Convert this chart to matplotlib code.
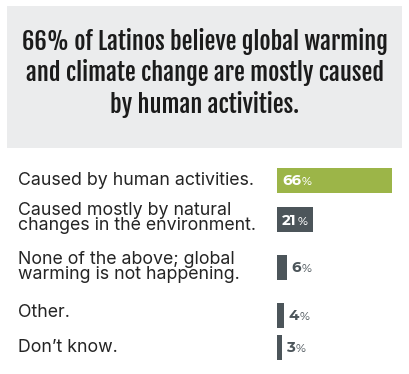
import matplotlib
matplotlib.use("Agg")
import matplotlib.pyplot as plt
from matplotlib.patches import Rectangle

# data
title = "66% of Latinos believe global warming\nand climate change are mostly caused\nby human activities."
labels = ["Caused by human activities.",
          "Caused mostly by natural\nchanges in the environment.",
          "None of the above; global\nwarming is not happening.",
          "Other.",
          "Don\u2019t know."]
values = [66, 21, 6, 4, 3]
colors = ["#9cb548", "#4c555a", "#4c555a", "#4c555a", "#4c555a"]

# layout, in pixels from the top (label_base = baseline of last line)
bar_y = [180.3, 219.7, 267.3, 315.2, 347.5]
label_base = [185.3, 230.0, 279.3, 317.3, 351.7]
W, H = 410, 374
dpi = 100

fig = plt.figure(figsize=(W / dpi, H / dpi), dpi=dpi)
fig.patch.set_facecolor("white")

bg = fig.add_axes([0, 0, 1, 1])
bg.set_xlim(0, W)
bg.set_ylim(H, 0)
bg.axis("off")
bg.add_patch(Rectangle((7, 6), 395, 142, color="#ebeced", lw=0))
bg.text(205, 113, title, ha="center", va="baseline", fontsize=17.6,
        fontfamily="Fjalla One", color="#1b1b1b", linespacing=1.21,
        multialignment="center")

for lab, y in zip(labels, label_base):
    bg.text(18, y, lab, ha="left", va="baseline", fontsize=12.8,
            fontfamily="Inter", color="#242424", linespacing=0.88)

# bars
x0, x1 = 276.7, 402
px_per_pct = 1.742
ax = fig.add_axes([x0 / W, 0, (x1 - x0) / W, 1])
ax.set_xlim(0, (x1 - x0) / px_per_pct)
ax.set_ylim(H, 0)
ax.axis("off")
ax.barh(bar_y, values, height=24.7, color=colors, left=0)

fig.canvas.draw()
r = fig.canvas.get_renderer()
for v, y in zip(values, bar_y):
    if v > 15:
        xs, c, c2 = 3.1, "white", "white"
    else:
        xs, c, c2 = v + 2.6, "#4c555a", "#5f676c"
    t = ax.text(xs, y + 5, str(v), ha="left", va="baseline", fontsize=10.8,
                fontfamily="Montserrat Alternates", fontweight="bold", color=c)
    bb = t.get_window_extent(r)
    xp = ax.transData.inverted().transform((bb.x1, 0))[0]
    ax.text(xp + 0.4, y + 5, "%", ha="left", va="baseline", fontsize=8.5,
            fontfamily="Montserrat Alternates", fontweight="medium", color=c2)

fig.savefig("out.png", dpi=dpi)
